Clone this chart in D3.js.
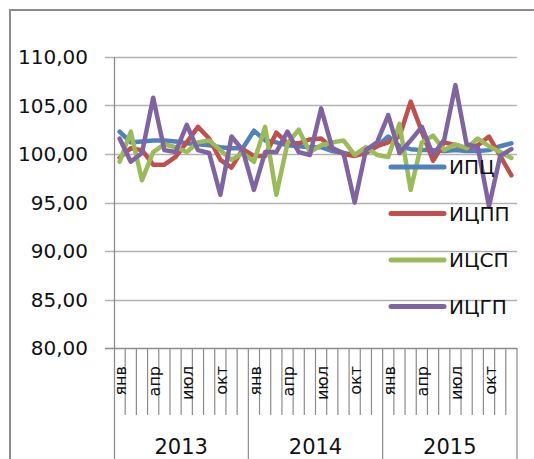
<html>
<head>
  <meta charset="utf-8">
  <script src="https://d3js.org/d3.v7.min.js"></script>
  <style>
    body { margin: 0; background: #fff; }
    text { font-family: 'DejaVu Sans', sans-serif; fill: #111; }
  </style>
</head>
<body>
  <script>

    var years = ['2013', '2014', '2015'];
    var months = ['янв','фев','мар','апр','май','июн','июл','авг','сен','окт','ноя','дек'];
    var yTicks = [80, 85, 90, 95, 100, 105, 110];

    var seriesNames = ['ИПЦ', 'ИЦПП', 'ИЦСП', 'ИЦГП'];
    var seriesColors = ['#4f81bd', '#c0504d', '#9bbb59', '#8064a2'];

    var ipc = [102.3, 101.2, 101.3, 101.4, 101.4, 101.3, 101.1, 101.0, 100.9, 100.7, 100.6, 100.6,
               102.4, 101.4, 101.2, 100.9, 100.8, 100.7, 100.7, 100.3, 100.1, 99.9, 100.2, 100.8,
               101.8, 100.8, 100.5, 100.4, 100.4, 100.3, 100.4, 100.3, 100.3, 100.4, 100.8, 101.1];
    var icpp = [99.6, 100.6, 100.4, 98.9, 98.9, 99.7, 101.2, 102.8, 101.6, 99.4, 98.6, 100.5,
                99.8, 99.8, 102.2, 101.1, 101.1, 101.5, 101.6, 100.6, 100.0, 99.8, 100.1, 100.8,
                101.2, 101.8, 105.4, 102.3, 99.3, 101.2, 100.9, 100.6, 100.9, 101.8, 99.8, 97.8];
    var icsp = [99.2, 102.3, 97.3, 100.2, 101.0, 100.7, 100.2, 101.2, 101.4, 100.4, 99.4, 100.1,
                99.2, 102.8, 95.8, 101.1, 102.5, 100.2, 100.9, 101.2, 101.4, 99.9, 100.7, 99.9,
                99.7, 103.1, 96.3, 101.2, 101.9, 100.4, 101.0, 100.6, 101.6, 100.8, 100.2, 99.6];
    var icgp = [101.6, 99.2, 100.1, 105.8, 100.4, 100.2, 103.0, 100.4, 100.1, 95.8, 101.8, 100.4,
                96.3, 100.2, 100.2, 102.3, 100.2, 99.9, 104.7, 100.6, 100.1, 95.0, 100.4, 101.2,
                104.0, 100.1, 101.4, 102.8, 99.9, 101.5, 107.1, 101.0, 100.7, 94.6, 99.8, 100.5];

    var allSeries = [ipc, icpp, icsp, icgp];

    var width = 534,
        height = 459;

    var plotLeft = 114, plotRight = 517, plotTop = 57, plotBottom = 348;

    var svg = d3.select('body')
      .append('svg')
      .attr('width', width)
      .attr('height', height);

    // outer chart border (only top/left visible in the crop)
    svg.append('path')
      .attr('d', 'M10,' + height + 'V10H' + width)
      .attr('fill', 'none')
      .attr('stroke', '#8c8c8c')
      .attr('stroke-width', 2);

    var idx = d3.range(years.length * months.length);

    var x = d3.scaleBand()
      .domain(idx)
      .range([plotLeft, plotRight])
      .padding(0);

    var y = d3.scaleLinear()
      .domain([80, 110])
      .range([plotBottom, plotTop]);

    var fmt = function(v) { return d3.format('.2f')(v).replace('.', ','); };

    // gridlines
    svg.append('g')
      .selectAll('line')
      .data(yTicks)
      .enter()
      .append('line')
      .attr('x1', plotLeft - 9)
      .attr('x2', plotRight)
      .attr('y1', (d) => Math.round(y(d)) + 0.5)
      .attr('y2', (d) => Math.round(y(d)) + 0.5)
      .attr('stroke', (d) => d === 80 ? '#8c8c8c' : '#b3b3b3')
      .attr('stroke-width', 1.3);

    svg.append('g')
      .selectAll('text')
      .data(yTicks)
      .enter()
      .append('text')
      .attr('x', 88)
      .attr('y', (d) => y(d))
      .attr('dy', '0.36em')
      .attr('text-anchor', 'end')
      .attr('font-size', 20)
      .text(fmt);

    // y axis line
    svg.append('line')
      .attr('x1', plotLeft + 0.5).attr('x2', plotLeft + 0.5)
      .attr('y1', plotTop).attr('y2', height)
      .attr('stroke', '#8c8c8c')
      .attr('stroke-width', 1.3);

    // category ticks
    svg.append('g')
      .selectAll('line')
      .data(idx.slice(1))
      .enter()
      .append('line')
      .attr('x1', (d) => x(d))
      .attr('x2', (d) => x(d))
      .attr('y1', plotBottom)
      .attr('y2', (d) => d % 12 === 0 ? height : 415)
      .attr('stroke', '#8c8c8c')
      .attr('stroke-width', 1.2);

    svg.append('line')
      .attr('x1', plotRight).attr('x2', plotRight)
      .attr('y1', plotBottom).attr('y2', height)
      .attr('stroke', '#8c8c8c')
      .attr('stroke-width', 1.2);

    // month labels
    svg.append('g')
      .selectAll('text')
      .data(idx.filter((d) => d % 3 === 0))
      .enter()
      .append('text')
      .attr('transform', (d) => 'translate(' + (x(d) + x.bandwidth() / 2 + 1) + ',366) rotate(-90)')
      .attr('dy', '0.35em')
      .attr('text-anchor', 'end')
      .attr('font-size', 16)
      .text((d) => months[d % 12]);

    // year labels
    svg.append('g')
      .selectAll('text')
      .data(years)
      .enter()
      .append('text')
      .attr('x', (d, i) => x(i * 12) + x.bandwidth() * 6)
      .attr('y', 446)
      .attr('dy', '0.36em')
      .attr('text-anchor', 'middle')
      .attr('font-size', 21)
      .text((d) => d);

    var line = d3.line()
      .x((d, i) => x(i) + x.bandwidth() / 2)
      .y((d) => y(d));

    svg.append('g')
      .selectAll('path')
      .data(allSeries)
      .enter()
      .append('path')
      .attr('d', line)
      .attr('fill', 'none')
      .attr('stroke', (d, i) => seriesColors[i])
      .attr('stroke-width', 4.5)
      .attr('stroke-linejoin', 'round')
      .attr('stroke-linecap', 'round');

    // legend
    var legend = svg.append('g')
      .selectAll('g')
      .data(seriesNames)
      .enter()
      .append('g')
      .attr('transform', (d, i) => 'translate(0,' + (167 + i * 46.5) + ')');

    legend.append('line')
      .attr('x1', 391).attr('x2', 444)
      .attr('stroke', (d, i) => seriesColors[i])
      .attr('stroke-width', 5)
      .attr('stroke-linecap', 'round');

    legend.append('text')
      .attr('x', 449)
      .attr('dy', '0.36em')
      .attr('font-size', 20)
      .text((d) => d);

  </script>
</body>
</html>
